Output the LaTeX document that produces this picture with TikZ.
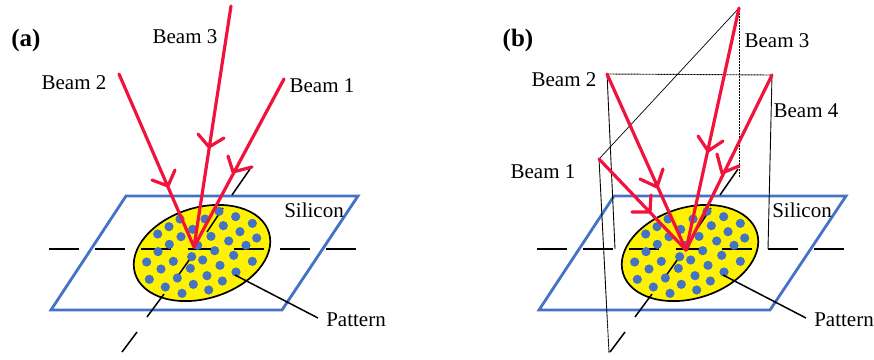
\documentclass[tikz,border=0pt]{standalone}
\usepackage{fontspec}
\setmainfont{Liberation Serif}
\usetikzlibrary{shapes.geometric}
\definecolor{siblue}{HTML}{4472C4}
\definecolor{beamred}{HTML}{F0143C}
\tikzset{
  x=1pt,y=-1pt,
  plate/.style={draw=siblue,line width=2.8pt,line join=miter},
  wafer/.style={draw=black,line width=1.7pt,fill=yellow,ellipse,inner sep=0pt,minimum width=140pt,minimum height=91pt,rotate=17},
  axisline/.style={draw=black,line width=1.5pt},
  spot/.style={circle,fill=siblue,inner sep=0pt,minimum size=9.2pt},
  beam/.style={draw=beamred,line width=3.2pt,line cap=round,line join=round},
  guide/.style={draw=black,line width=0.7pt},
  guidedot/.style={draw=black,line width=0.9pt,dash pattern=on 1.2pt off 0.3pt},
  lbl/.style={font=\fontsize{21}{24}\selectfont,inner sep=0pt},
  panel/.style={font=\fontsize{25}{28}\selectfont\bfseries,inner sep=0pt},
}
\newcommand{\basepanel}{%
  \coordinate (p1) at (126,196);
  \coordinate (p2) at (358,196);
  \coordinate (p3) at (282,310);
  \coordinate (p4) at (51,310);
  \draw[plate] (p1) -- (p2) -- (p3) -- (p4) -- cycle;
  \node[wafer] (w) at (202,253) {};
  \coordinate (h1) at (49,249);
  \coordinate (h2) at (358,249);
  \draw[axisline,dash pattern=on 30pt off 16.2pt] (h1) -- (h2);
  \coordinate (d1) at (250,169);  \coordinate (d2) at (232,195);
  \coordinate (d3) at (223,208);  \coordinate (d4) at (207,232);
  \coordinate (d5) at (192,256);  \coordinate (d6) at (175,280);
  \coordinate (d7) at (164,294);  \coordinate (d8) at (147,317);
  \coordinate (d9) at (137,332);  \coordinate (d10) at (122,352);
  \draw[axisline] (d1) -- (d2) (d3) -- (d4) (d5) -- (d6) (d7) -- (d8) (d9) -- (d10);
  \foreach \px/\py in {387/124,437/140,487/160,345/147,270/147,237/170,308/178,400/167,450/185,500/204,203/192,273/200,363/199,416/213,468/226,238/223,323/226,204/245,374/242,431/256,487/274,305/260,338/270,250/274,170/276,213/297,301/295,390/286,438/306,262/324,351/317,178/328,397/333,226/351,310/343,356/360,276/370}{
    \node[spot] at ({90+\px/3},{170+\py/3}) {};
  }
  \node[lbl] (sil) at (314,210) {Silicon};
  \node[lbl] (pat) at (356,320) {Pattern};
  \coordinate (lead) at (235,275);
  \coordinate (leadend) at (318,318);
  \draw[axisline] (lead) -- (leadend);
}
\begin{document}
\begin{tikzpicture}
\useasboundingbox (0,0) rectangle (874,359);
% panel (a)
\begin{scope}[name prefix=a-]
  \basepanel
  \coordinate (apex) at (194,247);
  \coordinate (s1) at (284,79);
  \coordinate (s2) at (119,74);
  \coordinate (s3) at (231,6);
  \coordinate (t1) at (233,172); \coordinate (u1) at (228,156); \coordinate (v1) at (252,167);
  \coordinate (t2) at (168,186); \coordinate (u2) at (152,180); \coordinate (v2) at (175,170);
  \coordinate (t3) at (209,147); \coordinate (u3) at (198,134); \coordinate (v3) at (224,138);
  \draw[beam] (s2) -- (apex) (u2) -- (t2) -- (v2);
  \draw[beam] (s3) -- (apex) (u3) -- (t3) -- (v3);
  \draw[beam] (s1) -- (apex) (u1) -- (t1) -- (v1);
  \node[panel] (lab) at (26,40) {(a)};
  \node[lbl] (b1) at (322,86) {Beam 1};
  \node[lbl] (b2) at (74,83) {Beam 2};
  \node[lbl] (b3) at (185,37) {Beam 3};
\end{scope}
% panel (b)
\begin{scope}[shift={(488,0)},name prefix=b-]
  \basepanel
\end{scope}
\begin{scope}[name prefix=b-]
  \coordinate (apex) at (686,250);
  \coordinate (s1) at (599,159);
  \coordinate (s2) at (607,74);
  \coordinate (s3) at (739,8);
  \coordinate (s4) at (772,75);
  \coordinate (t1) at (650,212); \coordinate (u1) at (632,212); \coordinate (v1) at (651,195);
  \coordinate (t2) at (657,187); \coordinate (u2) at (640,179); \coordinate (v2) at (663,169);
  \coordinate (t3) at (708,151); \coordinate (u3) at (698,136); \coordinate (v3) at (723,141);
  \coordinate (t4) at (722,173); \coordinate (u4) at (717,154); \coordinate (v4) at (739,166);
  \coordinate (g1) at (609,353);
  \coordinate (g2) at (615,249);
  \coordinate (g3) at (739,177);
  \coordinate (g4) at (768,249);
  \draw[guide] (s1) -- (s3);
  \draw[guidedot] (s2) -- (s4);
  \draw[guidedot] (s1) -- (g1);
  \draw[guidedot] (s2) -- (g2);
  \draw[guidedot] (s3) -- (g3);
  \draw[guidedot] (s4) -- (g4);
  \draw[beam] (s1) -- (apex) (u1) -- (t1) -- (v1);
  \draw[beam] (s2) -- (apex) (u2) -- (t2) -- (v2);
  \draw[beam] (s3) -- (apex) (u3) -- (t3) -- (v3);
  \draw[beam] (s4) -- (apex) (u4) -- (t4) -- (v4);
  \node[panel] (lab) at (518,40) {(b)};
  \node[lbl] (b1) at (543,172) {Beam 1};
  \node[lbl] (b2) at (564,80) {Beam 2};
  \node[lbl] (b3) at (777,41) {Beam 3};
  \node[lbl] (b4) at (806,111) {Beam 4};
\end{scope}
\end{tikzpicture}
\end{document}
